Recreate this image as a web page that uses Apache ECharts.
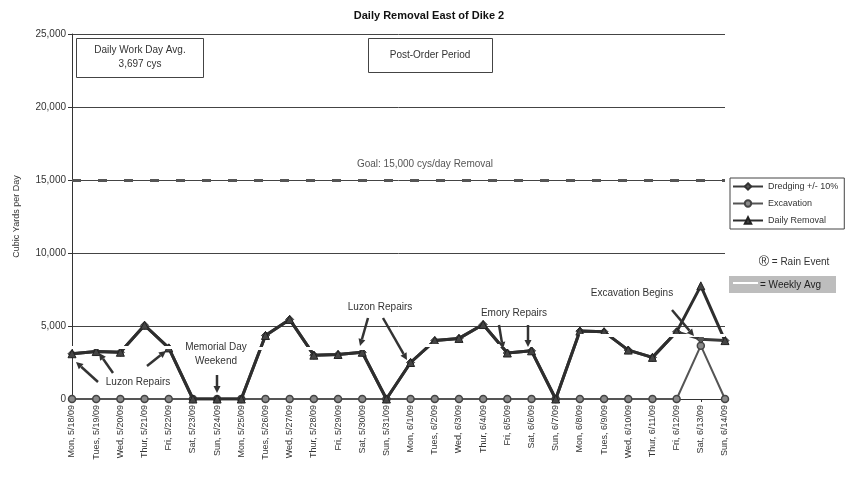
<!doctype html>
<html lang="en">
<head>
<meta charset="UTF-8" />
<title>Daily Removal East of Dike 2</title>
<style>
  html, body { margin: 0; padding: 0; background: #fff; }
  #chart { width: 846px; height: 480px; }
</style>
</head>
<body>
<div id="chart"></div>
<script src="https://cdn.jsdelivr.net/npm/echarts@6/dist/echarts.min.js"></script>
<script>
// data
const categories = [
  'Mon, 5/18/09', 'Tues, 5/19/09', 'Wed, 5/20/09', 'Thur, 5/21/09', 'Fri, 5/22/09', 'Sat, 5/23/09', 'Sun, 5/24/09',
  'Mon, 5/25/09', 'Tues, 5/26/09', 'Wed, 5/27/09', 'Thur, 5/28/09', 'Fri, 5/29/09', 'Sat, 5/30/09', 'Sun, 5/31/09',
  'Mon, 6/1/09', 'Tues, 6/2/09', 'Wed, 6/3/09', 'Thur, 6/4/09', 'Fri, 6/5/09', 'Sat, 6/6/09', 'Sun, 6/7/09',
  'Mon, 6/8/09', 'Tues, 6/9/09', 'Wed, 6/10/09', 'Thur, 6/11/09', 'Fri, 6/12/09', 'Sat, 6/13/09', 'Sun, 6/14/09'
];
const dredging = [
  3100, 3250, 3200, 5050, 3500, 0, 0,
  0, 4350, 5450, 3000, 3050, 3200, 0,
  2500, 4000, 4150, 5100, 3150, 3300, 0,
  4650, 4600, 3350, 2850, 4600, 4100, 4000
];
const excavation = [
  0, 0, 0, 0, 0, 0, 0,
  0, 0, 0, 0, 0, 0, 0,
  0, 0, 0, 0, 0, 0, 0,
  0, 0, 0, 0, 0, 3650, 0
];
const dailyRemoval = [
  3100, 3250, 3200, 5050, 3500, 0, 0,
  0, 4350, 5450, 3000, 3050, 3200, 0,
  2500, 4000, 4150, 5100, 3150, 3300, 0,
  4650, 4600, 3350, 2850, 4600, 7750, 4000
];
const weekStart = ['Mon, 5/18/09', 'Mon, 5/25/09', 'Mon, 6/1/09', 'Mon, 6/8/09'];
const weekEnd = ['Sun, 5/24/09', 'Sun, 5/31/09', 'Sun, 6/7/09', 'Sun, 6/14/09'];
const weeklyAvg = [3550, 3450, 3700, 4350];
const goal = 15000;
const yMin = 0, yMax = 25000, yStep = 5000;

const FONT = '"Liberation Sans", Arial, sans-serif';
const chart = echarts.init(document.getElementById('chart'));

// arrow = line + small head
function arrow(x1, y1, x2, y2) {
  const a = Math.atan2(y2 - y1, x2 - x1), h = 7, w = 3.5;
  const bx = x2 - h * Math.cos(a), by = y2 - h * Math.sin(a);
  return [
    { type: 'line', z: 100, shape: { x1: x1, y1: y1, x2: bx, y2: by }, style: { stroke: '#333', lineWidth: 2.5 } },
    { type: 'polygon', z: 100, shape: { points: [[x2, y2], [bx + w * Math.sin(a), by - w * Math.cos(a)], [bx - w * Math.sin(a), by + w * Math.cos(a)]] }, style: { fill: '#333' } }
  ];
}
function label(x, y, text, color) {
  return { type: 'text', z: 100, x: x, y: y, style: { text: text, font: '10px ' + FONT, fill: color || '#333', align: 'center', verticalAlign: 'middle', lineHeight: 14 } };
}

const graphics = [
  { type: 'rect', z: 100, shape: { x: 76.5, y: 38.5, width: 127, height: 39 }, style: { fill: '#fff', stroke: '#444', lineWidth: 1 } },
  label(140, 57, 'Daily Work Day Avg.\n3,697 cys'),
  { type: 'rect', z: 100, shape: { x: 368.5, y: 38.5, width: 124, height: 34 }, style: { fill: '#fff', stroke: '#444', lineWidth: 1 } },
  label(430, 55, 'Post-Order Period'),
  label(425, 164, 'Goal: 15,000 cys/day Removal', '#555'),
  label(138, 382, 'Luzon Repairs'),
  label(216, 354, 'Memorial Day\nWeekend'),
  label(380, 307, 'Luzon Repairs'),
  label(514, 313, 'Emory Repairs'),
  label(632, 293, 'Excavation Begins'),
  {
    type: 'text', z: 100, x: 794, y: 262,
    style: { text: '{r|®} = Rain Event', font: '10px ' + FONT, fill: '#333', align: 'center', verticalAlign: 'middle',
      rich: { r: { fontSize: 14, fontFamily: FONT, fill: '#333' } } }
  },
  { type: 'rect', z: 100, shape: { x: 729, y: 276, width: 107, height: 17 }, style: { fill: '#bdbdbd' } },
  { type: 'line', z: 101, shape: { x1: 733, y1: 283, x2: 758, y2: 283 }, style: { stroke: '#fff', lineWidth: 2 } },
  { type: 'text', z: 101, x: 760, y: 285, style: { text: '= Weekly Avg', font: '10px ' + FONT, fill: '#222', verticalAlign: 'middle' } }
]
  .concat(arrow(98, 382, 76, 362))
  .concat(arrow(113, 373, 99, 353))
  .concat(arrow(147, 366, 166, 351))
  .concat(arrow(217, 375, 217, 393))
  .concat(arrow(368, 318, 360, 346))
  .concat(arrow(383, 318, 407, 360))
  .concat(arrow(499, 325, 503, 349))
  .concat(arrow(528, 325, 528, 347))
  .concat(arrow(672, 310, 694, 336));

const weekLines = weeklyAvg.map(function (v, i) {
  return [{ coord: [weekStart[i], v] }, { coord: [weekEnd[i], v] }];
});

const option = {
  backgroundColor: '#fff',
  animation: false,
  textStyle: { fontFamily: FONT },
  title: {
    text: 'Daily Removal East of Dike 2',
    left: 424, top: 5, textAlign: 'center',
    textStyle: { fontSize: 11, fontWeight: 'bold', color: '#111', fontFamily: FONT }
  },
  legend: {
    data: ['Dredging +/- 10%', 'Excavation', 'Daily Removal'],
    orient: 'vertical',
    left: 730, top: 178,
    itemWidth: 30, itemHeight: 8, itemGap: 8,
    padding: [4, 6, 4, 2],
    borderColor: '#444', borderWidth: 1,
    textStyle: { fontSize: 9, color: '#333', fontFamily: FONT }
  },
  grid: { left: 72, right: 121, top: 34, bottom: 81, containLabel: false },
  xAxis: {
    type: 'category',
    data: categories,
    boundaryGap: false,
    axisLine: { lineStyle: { color: '#333', width: 1 } },
    axisTick: { show: true, length: 3, lineStyle: { color: '#333' } },
    axisLabel: { interval: 0, rotate: 90, fontSize: 9, color: '#333', margin: 6, fontFamily: FONT }
  },
  yAxis: {
    type: 'value',
    min: yMin, max: yMax, interval: yStep,
    name: 'Cubic Yards per Day',
    nameLocation: 'middle',
    nameGap: 51,
    nameTextStyle: { fontSize: 9, color: '#333', fontFamily: FONT },
    axisLine: { show: true, lineStyle: { color: '#333', width: 1 } },
    axisTick: { show: true, length: 4, lineStyle: { color: '#333' } },
    axisLabel: { fontSize: 10, color: '#333', margin: 6, fontFamily: FONT,
      formatter: function (v) { return v.toLocaleString('en-US'); } },
    splitLine: { show: true, lineStyle: { color: '#444', width: 1 } }
  },
  series: [
    {
      name: 'Excavation', type: 'line', data: excavation,
      symbol: 'circle', symbolSize: 7,
      lineStyle: { color: '#555', width: 2 },
      itemStyle: { color: '#8a8a8a', borderColor: '#444', borderWidth: 1.5 },
      markLine: {
        silent: true, symbol: 'none', label: { show: false },
        lineStyle: { color: '#555', width: 3, type: [9, 17] },
        data: [{ yAxis: goal }]
      },
      z: 3
    },
    {
      name: 'Dredging +/- 10%', type: 'line', data: dredging,
      symbol: 'diamond', symbolSize: 8,
      lineStyle: { color: '#3a3a3a', width: 3 },
      itemStyle: { color: '#555', borderColor: '#333', borderWidth: 1 },
      z: 4
    },
    {
      name: 'Daily Removal', type: 'line', data: dailyRemoval,
      symbol: 'triangle', symbolSize: 8,
      lineStyle: { color: '#2e2e2e', width: 3 },
      itemStyle: { color: '#444', borderColor: '#222', borderWidth: 1 },
      z: 5
    },
    {
      name: 'Weekly Avg', type: 'line',
      data: categories.map(function () { return null; }),
      showSymbol: false,
      z: 20,
      markLine: {
        silent: true, symbol: 'none', label: { show: false },
        z: 20,
        lineStyle: { color: '#fff', width: 3, type: 'solid', opacity: 1 },
        data: weekLines
      }
    }
  ],
  graphic: graphics
};

chart.setOption(option);
</script>
</body>
</html>
